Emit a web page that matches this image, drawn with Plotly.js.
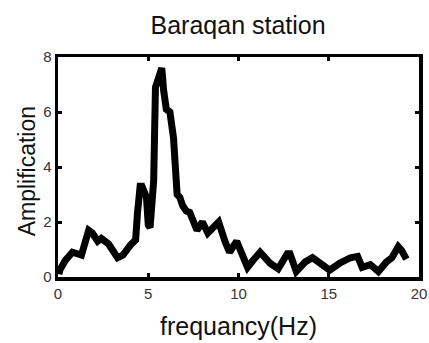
<!DOCTYPE html>
<html>
<head>
<script src="https://cdn.plot.ly/plotly-3.0.1.min.js"></script>
<style>html,body{margin:0;padding:0;background:#fff;}#plot{width:429px;height:343px;}</style>
</head>
<body>
<div id="plot"></div>
<script>
var freq = [0.05,0.1,0.4,0.8,1.3,1.7,1.9,2.2,2.4,2.8,3.3,3.6,4.0,4.3,4.4,4.55,4.65,4.9,5.0,5.1,5.3,5.4,5.6,5.75,5.85,6.0,6.2,6.4,6.6,6.75,6.9,7.1,7.3,7.6,7.7,8.0,8.3,8.6,8.9,9.25,9.5,9.9,10.25,10.5,10.8,11.2,11.75,12.2,12.7,12.85,13.2,13.7,14.1,14.6,15.05,15.6,16.2,16.6,16.85,17.3,17.75,18.2,18.5,18.85,19.05,19.3];
var amp  = [0.1,0.25,0.6,0.9,0.8,1.7,1.6,1.3,1.4,1.2,0.7,0.8,1.15,1.35,2.3,3.3,3.3,2.9,1.9,1.8,3.5,6.9,7.3,7.6,6.8,6.1,6.0,5.05,3.0,2.9,2.6,2.4,2.35,1.9,1.7,2.0,1.6,1.8,2.0,1.3,0.9,1.3,0.75,0.35,0.6,0.9,0.5,0.3,0.85,0.85,0.2,0.55,0.7,0.45,0.25,0.5,0.7,0.75,0.35,0.45,0.2,0.55,0.7,1.1,0.95,0.65];
var xTicks = [0,5,10,15,20];
var yTicks = [0,2,4,6,8];

var trace = {x: freq, y: amp, mode: 'lines', type: 'scatter',
  line: {color: '#000', width: 7, shape: 'linear'}, hoverinfo: 'none'};

var axisCommon = {showgrid: false, zeroline: false, showline: true, linecolor: '#000', linewidth: 3.5,
  mirror: 'ticks', ticks: 'inside', ticklen: 4, tickwidth: 3, tickcolor: '#000',
  tickfont: {family: 'Liberation Sans, Arial, sans-serif', size: 15, color: '#333'}};

var layout = {
  width: 429, height: 343,
  margin: {l: 58, r: 10, t: 57, b: 66},
  paper_bgcolor: '#fff', plot_bgcolor: '#fff',
  showlegend: false,
  title: {text: 'Baraqan station', font: {family: 'Liberation Sans, Arial, sans-serif', size: 25, color: '#111'},
    x: 0.555, xanchor: 'center', y: 0.925, yanchor: 'middle'},
  xaxis: Object.assign({}, axisCommon, {range: [0, 20], tickvals: xTicks, ticktext: xTicks.map(String),
    title: {text: 'frequancy(Hz)', font: {family: 'Liberation Sans, Arial, sans-serif', size: 25, color: '#111'}, standoff: 18}}),
  yaxis: Object.assign({}, axisCommon, {range: [0, 8], tickvals: yTicks, ticktext: yTicks.map(String)}),
  annotations: [{text: 'Amplification', textangle: -90, showarrow: false,
    xref: 'paper', yref: 'paper', x: -0.086, y: 0.48, xanchor: 'center', yanchor: 'middle',
    font: {family: 'Liberation Sans, Arial, sans-serif', size: 23, color: '#111'}}]
};

Plotly.newPlot('plot', [trace], layout, {displayModeBar: false, staticPlot: true});
</script>
</body>
</html>
